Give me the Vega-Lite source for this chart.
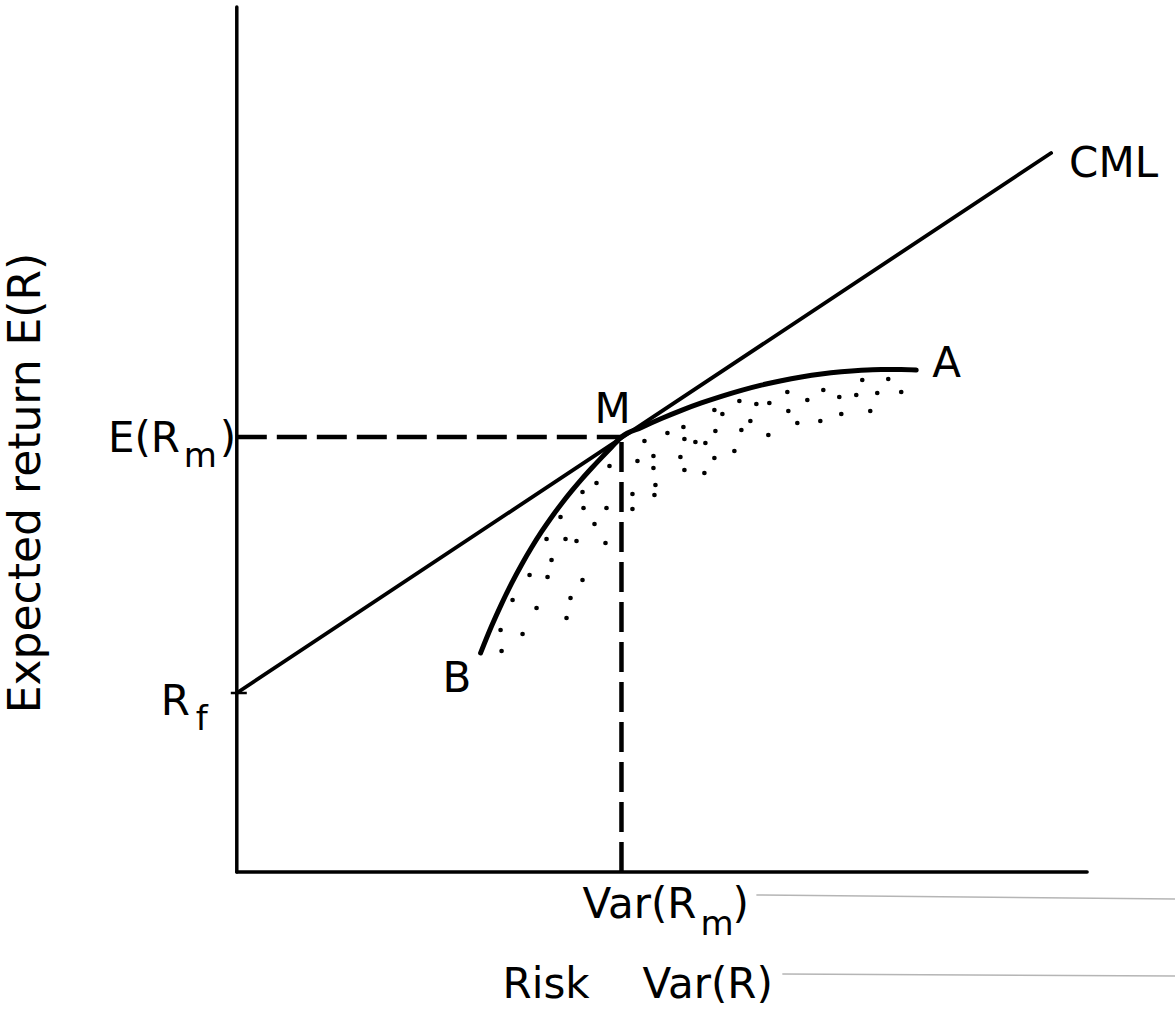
{
  "$schema": "https://vega.github.io/schema/vega-lite/v6.json",
  "width": 1176,
  "height": 1014,
  "autosize": {"type": "fit", "contains": "padding"},
  "padding": 0,
  "background": "white",
  "config": {"view": {"stroke": null}, "text": {"font": "DejaVu Sans", "color": "black"}},
  "datasets": {
    "axes": [
      {"x": 0, "y": 0, "x2": 0, "y2": 86.5},
      {"x": 0, "y": 0, "x2": 85.1, "y2": 0}
    ],
    "rftick": [{"x": -0.6, "y": 17.9, "x2": 1.0, "y2": 17.9}],
    "cml": [{"x": 0, "y": 17.9, "x2": 81.5, "y2": 71.9}],
    "dashed": [
      {"x": 0, "y": 43.5, "x2": 38.5, "y2": 43.5},
      {"x": 38.5, "y": 0, "x2": 38.5, "y2": 43.5}
    ],
    "scan": [
      {"x": 52.0, "y": -2.3, "x2": 93.9, "y2": -2.7},
      {"x": 54.6, "y": -10.2, "x2": 93.9, "y2": -10.4}
    ],
    "frontier": [
      {"x": 24.4, "y": 21.9},
      {"x": 25.5, "y": 24.59},
      {"x": 26.5, "y": 26.81},
      {"x": 27.5, "y": 28.86},
      {"x": 28.5, "y": 30.73},
      {"x": 29.5, "y": 32.45},
      {"x": 30.5, "y": 34.03},
      {"x": 31.5, "y": 35.48},
      {"x": 32.5, "y": 36.83},
      {"x": 33.5, "y": 38.08},
      {"x": 34.5, "y": 39.26},
      {"x": 35.5, "y": 40.37},
      {"x": 36.5, "y": 41.44},
      {"x": 37.5, "y": 42.48},
      {"x": 38.5, "y": 43.5},
      {"x": 40.5, "y": 44.46},
      {"x": 42.5, "y": 45.35},
      {"x": 44.5, "y": 46.17},
      {"x": 46.5, "y": 46.91},
      {"x": 48.5, "y": 47.57},
      {"x": 50.5, "y": 48.17},
      {"x": 52.5, "y": 48.69},
      {"x": 54.5, "y": 49.13},
      {"x": 56.5, "y": 49.5},
      {"x": 58.5, "y": 49.8},
      {"x": 60.5, "y": 50.02},
      {"x": 62.5, "y": 50.17},
      {"x": 64.5, "y": 50.24},
      {"x": 66.5, "y": 50.24},
      {"x": 68.0, "y": 50.19}
    ],
    "dots": [
      {"x": 37.3, "y": 40.6}, {"x": 36.0, "y": 38.9}, {"x": 34.6, "y": 38.0}, {"x": 34.7, "y": 36.4},
      {"x": 37.0, "y": 36.4}, {"x": 32.4, "y": 35.5}, {"x": 35.8, "y": 34.8}, {"x": 31.0, "y": 33.3},
      {"x": 32.9, "y": 33.3}, {"x": 34.0, "y": 33.1}, {"x": 36.9, "y": 32.9}, {"x": 31.5, "y": 31.2},
      {"x": 29.3, "y": 29.7}, {"x": 31.1, "y": 29.5}, {"x": 34.6, "y": 29.2}, {"x": 27.6, "y": 27.2},
      {"x": 33.4, "y": 27.4}, {"x": 30.0, "y": 26.4}, {"x": 33.0, "y": 25.4}, {"x": 26.4, "y": 24.2},
      {"x": 28.6, "y": 23.8}, {"x": 26.5, "y": 22.1},
      {"x": 40.1, "y": 41.1}, {"x": 39.6, "y": 37.8}, {"x": 39.6, "y": 36.3}, {"x": 40.8, "y": 43.1},
      {"x": 41.7, "y": 41.6}, {"x": 41.7, "y": 40.4}, {"x": 41.9, "y": 38.7}, {"x": 41.8, "y": 37.7},
      {"x": 43.1, "y": 43.9}, {"x": 44.7, "y": 44.5}, {"x": 44.8, "y": 43.3}, {"x": 44.4, "y": 41.5},
      {"x": 44.8, "y": 40.2}, {"x": 45.9, "y": 43.0}, {"x": 46.9, "y": 42.9}, {"x": 46.8, "y": 39.9},
      {"x": 47.8, "y": 46.2}, {"x": 48.6, "y": 45.8}, {"x": 47.9, "y": 44.1}, {"x": 47.8, "y": 41.4},
      {"x": 49.8, "y": 42.1}, {"x": 50.3, "y": 47.1}, {"x": 50.5, "y": 44.2}, {"x": 52.0, "y": 46.8},
      {"x": 51.4, "y": 45.1}, {"x": 53.3, "y": 46.9}, {"x": 53.2, "y": 43.7}, {"x": 55.1, "y": 48.0},
      {"x": 55.2, "y": 46.1}, {"x": 56.1, "y": 44.9}, {"x": 57.1, "y": 47.2}, {"x": 58.7, "y": 48.2},
      {"x": 58.4, "y": 45.1}, {"x": 60.3, "y": 47.5}, {"x": 60.5, "y": 45.8}, {"x": 62.0, "y": 47.7},
      {"x": 62.6, "y": 49.2}, {"x": 64.1, "y": 47.9}, {"x": 63.4, "y": 46.1}, {"x": 65.2, "y": 49.3},
      {"x": 66.5, "y": 48.0}
    ],
    "labels": [
      {"label": "E(R", "x": -12.9, "y": 42.0},
      {"label": ")", "x": -1.7, "y": 42.0},
      {"label": "R", "x": -7.6, "y": 15.7},
      {"label": "M", "x": 35.8, "y": 44.9},
      {"label": "A", "x": 69.6, "y": 49.5},
      {"label": "B", "x": 20.6, "y": 18.0},
      {"label": "CML", "x": 83.3, "y": 69.5},
      {"label": "Var(R", "x": 34.6, "y": -4.6},
      {"label": ")", "x": 49.6, "y": -4.6},
      {"label": "Risk", "x": 26.6, "y": -12.6},
      {"label": "Var(R)", "x": 40.6, "y": -12.6}
    ],
    "subs": [
      {"label": "m", "x": -5.3, "y": 40.5},
      {"label": "f", "x": -4.1, "y": 14.2},
      {"label": "m", "x": 46.4, "y": -6.3}
    ],
    "title": [{"label": "Expected return E(R)", "x": -21.0, "y": 38.9}]
  },
  "encoding": {
    "x": {"field": "x", "type": "quantitative", "scale": {"domain": [-23.7, 93.9], "nice": false, "zero": false}, "axis": null},
    "y": {"field": "y", "type": "quantitative", "scale": {"domain": [-14.2, 87.2], "nice": false, "zero": false}, "axis": null}
  },
  "layer": [
    {
      "data": {"name": "scan"},
      "mark": {"type": "rule", "color": "#b5b5b5", "strokeWidth": 1.5},
      "encoding": {"x2": {"field": "x2"}, "y2": {"field": "y2"}}
    },
    {
      "data": {"name": "axes"},
      "mark": {"type": "rule", "color": "black", "strokeWidth": 3.5, "strokeCap": "round"},
      "encoding": {"x2": {"field": "x2"}, "y2": {"field": "y2"}}
    },
    {
      "data": {"name": "rftick"},
      "mark": {"type": "rule", "color": "black", "strokeWidth": 2.5},
      "encoding": {"x2": {"field": "x2"}, "y2": {"field": "y2"}}
    },
    {
      "data": {"name": "cml"},
      "mark": {"type": "rule", "color": "black", "strokeWidth": 3.8, "strokeCap": "round"},
      "encoding": {"x2": {"field": "x2"}, "y2": {"field": "y2"}}
    },
    {
      "data": {"name": "dashed"},
      "mark": {"type": "rule", "color": "black", "strokeWidth": 4.5, "strokeDash": [30, 10]},
      "encoding": {"x2": {"field": "x2"}, "y2": {"field": "y2"}}
    },
    {
      "data": {"name": "frontier"},
      "mark": {"type": "line", "color": "black", "strokeWidth": 5, "strokeCap": "round", "interpolate": "monotone"},
      "encoding": {}
    },
    {
      "data": {"name": "dots"},
      "mark": {"type": "circle", "color": "black", "size": 22, "opacity": 1}
    },
    {
      "data": {"name": "labels"},
      "mark": {"type": "text", "fontSize": 42, "align": "left", "baseline": "alphabetic"},
      "encoding": {"text": {"field": "label"}}
    },
    {
      "data": {"name": "subs"},
      "mark": {"type": "text", "fontSize": 34, "align": "left", "baseline": "alphabetic"},
      "encoding": {"text": {"field": "label"}}
    },
    {
      "data": {"name": "title"},
      "mark": {"type": "text", "fontSize": 44, "align": "center", "baseline": "middle", "angle": 270},
      "encoding": {"text": {"field": "label"}}
    }
  ]
}
